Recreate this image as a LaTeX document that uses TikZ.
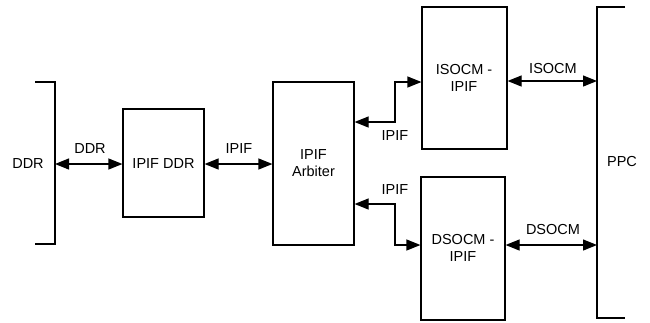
\documentclass[tikz,border=0pt]{standalone}
\usepackage{fontspec}
\setmainfont{Liberation Sans}
\usetikzlibrary{arrows.meta}
\begin{document}
\begin{tikzpicture}[x=1pt,y=-1pt,
  line width=1.2pt,
  blk/.style={draw, minimum size=0pt, inner sep=0pt},
  lbl/.style={font=\fontsize{14.5}{17}\selectfont, inner sep=0pt, align=center},
  link/.style={{Triangle[length=14pt,width=11pt]}-{Triangle[length=14pt,width=11pt]}}]
\useasboundingbox (0,0) rectangle (650,322);
% brackets
\draw (35,82) -- (55,82) -- (55,244) -- (35,244);
\draw (625,7) -- (597,7) -- (597,318) -- (625,318);
\coordinate (ddrR) at (55,164);
\coordinate (ppcI) at (597,81);
\coordinate (ppcD) at (597,245);
\node[lbl] (ddrT) at (28,164) {DDR};
\node[lbl] (ppcT) at (622,162) {PPC};
% boxes
\node[blk, minimum width=81pt, minimum height=108pt] (ipifddr) at (163.5,163) {};
\node[lbl] (ipifddrT) at (163.5,164) {IPIF DDR};
\node[blk, minimum width=81pt, minimum height=163pt] (arb) at (313.5,163.5) {};
\node[lbl] (arbT) at (313.5,163) {IPIF\\Arbiter};
\node[blk, minimum width=85pt, minimum height=142pt] (isocm) at (464.5,78) {};
\node[lbl] (isocmT) at (464,78) {ISOCM -\\IPIF};
\node[blk, minimum width=84pt, minimum height=143pt] (dsocm) at (463,248.5) {};
\node[lbl] (dsocmT) at (463,248) {DSOCM -\\IPIF};
% connectors
\draw[link] (ddrR) -- (ipifddr.west |- ddrR);
\node[lbl] (l1) at (90,149) {DDR};
\draw[link] (ipifddr.east |- ddrR) -- (arb.west |- ddrR);
\node[lbl] (l2) at (239,149) {IPIF};
\coordinate (u1) at (395,122);
\coordinate (u2) at (395,82);
\draw[link] (arb.east |- u1) -- (u1) -- (u2) -- (isocm.west |- u2);
\node[lbl] (l3) at (395,136) {IPIF};
\coordinate (d1) at (395,204);
\coordinate (d2) at (395,245);
\draw[link] (arb.east |- d1) -- (d1) -- (d2) -- (dsocm.west |- d2);
\node[lbl] (l4) at (395,190) {IPIF};
\draw[link] (isocm.east |- ppcI) -- (ppcI);
\node[lbl] (l5) at (553,69) {ISOCM};
\draw[link] (dsocm.east |- ppcD) -- (ppcD);
\node[lbl] (l6) at (553,230) {DSOCM};
\end{tikzpicture}
\end{document}
